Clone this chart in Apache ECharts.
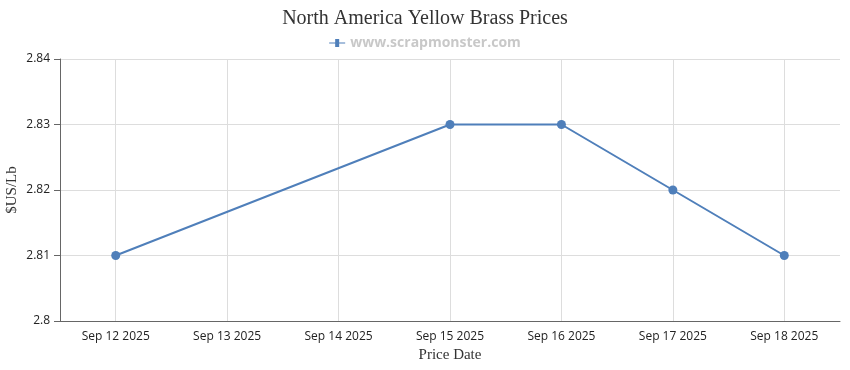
<!DOCTYPE html>
<html><head><meta charset="utf-8">
<script src="https://cdn.jsdelivr.net/npm/echarts@6/dist/echarts.min.js"></script>
<style>html,body{margin:0;padding:0;background:#fff}#c{width:850px;height:370px}</style>
</head><body><div id="c"></div>
<script>
const categories = ['Sep 12 2025','Sep 13 2025','Sep 14 2025','Sep 15 2025','Sep 16 2025','Sep 17 2025','Sep 18 2025'];
const prices = [2.81, null, null, 2.83, 2.83, 2.82, 2.81];
const yTicks = [2.8, 2.81, 2.82, 2.83, 2.84];
const chart = echarts.init(document.getElementById('c'));
chart.setOption({
  animation: false,
  title: {text: 'North America Yellow Brass Prices', left: 'center', top: 4,
    textStyle: {fontFamily: 'Liberation Serif', fontWeight: 'normal', fontSize: 20, color: '#333'}},
  legend: {top: 31, left: 'center', itemWidth: 16, itemHeight: 8,
    data: [{name: 'www.scrapmonster.com', icon: 'path://M0,3.5L6,3.5L6,0L10,0L10,3.5L16,3.5L16,4.5L10,4.5L10,8L6,8L6,4.5L0,4.5Z'}],
    textStyle: {fontFamily: 'Open Sans', fontWeight: 'bold', fontSize: 14, color: '#c8c8c8'}},
  grid: {left: 60, right: 10, top: 59, bottom: 49, containLabel: false, outerBoundsMode: 'none'},
  xAxis: {type: 'category', data: categories, boundaryGap: true,
    name: 'Price Date', nameLocation: 'middle', nameGap: 27, nameMoveOverlap: false,
    nameTextStyle: {fontFamily: 'Liberation Serif', fontSize: 15, color: '#333'},
    axisLine: {lineStyle: {color: '#666'}},
    axisTick: {alignWithLabel: true, length: 6, lineStyle: {color: '#666'}},
    axisLabel: {fontFamily: 'Open Sans', fontSize: 12, color: '#222', margin: 10},
    splitLine: {show: true, alignWithLabel: true, lineStyle: {color: '#ddd'}}},
  yAxis: {type: 'value', min: yTicks[0], max: yTicks[yTicks.length-1], interval: 0.01,
    name: '$US/Lb', nameLocation: 'middle', nameGap: 40, nameMoveOverlap: false,
    nameTextStyle: {fontFamily: 'Liberation Serif', fontSize: 15, color: '#333'},
    axisLine: {show: true, lineStyle: {color: '#666'}},
    axisTick: {show: true, length: 6, lineStyle: {color: '#666'}},
    axisLabel: {fontFamily: 'Open Sans', fontSize: 12, color: '#222', margin: 10,
      formatter: v => String(parseFloat(v.toFixed(2)))},
    splitLine: {lineStyle: {color: '#ddd'}}},
  series: [{name: 'www.scrapmonster.com', type: 'line', data: prices, connectNulls: true,
    symbol: 'circle', symbolSize: 9, showAllSymbol: true,
    lineStyle: {color: '#4f7fba', width: 2}, itemStyle: {color: '#4f7fba'}}]
});
</script></body></html>
